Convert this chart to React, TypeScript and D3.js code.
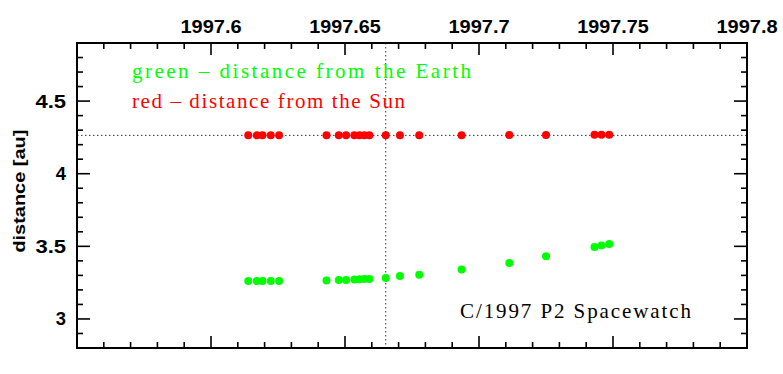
import * as d3 from "d3";

// epochs (decimal year) shared by both series
const epochs = [
  1997.6139, 1997.6171, 1997.6192, 1997.6223, 1997.6254,
  1997.6431, 1997.6477, 1997.6504, 1997.6535, 1997.6554, 1997.6572, 1997.6591,
  1997.6652, 1997.6705, 1997.6777, 1997.6935, 1997.7113, 1997.725,
  1997.7431, 1997.7457, 1997.7486,
];
// distance from the Earth [au]
const earthDist = [
  3.261, 3.261, 3.261, 3.261, 3.261,
  3.264, 3.268, 3.268, 3.272, 3.274, 3.275, 3.275,
  3.282, 3.296, 3.305, 3.34, 3.385, 3.431,
  3.495, 3.505, 3.516,
];
// distance from the Sun [au]
const sunDist = [
  4.264, 4.264, 4.264, 4.264, 4.264,
  4.264, 4.264, 4.264, 4.264, 4.264, 4.264, 4.264,
  4.265, 4.265, 4.265, 4.265, 4.266, 4.266,
  4.268, 4.268, 4.269,
];
const xTickLabels = ["1997.6", "1997.65", "1997.7", "1997.75", "1997.8"];
const yTickLabels = ["3", "3.5", "4", "4.5"];
const refDist = 4.264;
const refEpoch = 1997.6652;

const W = 783;
const H = 374;
const margin = { left: 77, right: 36, top: 43, bottom: 26 };

export default function App() {
  const innerW = W - margin.left - margin.right;
  const innerH = H - margin.top - margin.bottom;
  const x = d3.scaleLinear().domain([1997.55, 1997.8]).range([0, innerW]);
  const y = d3.scaleLinear().domain([2.8, 4.9]).range([innerH, 0]);

  const xMinor = d3.range(0, 26).map((i) => 1997.55 + i * 0.01);
  const yMinor = d3.range(0, 22).map((i) => 2.8 + i * 0.1);
  const isMajor = (v: number, step: number) =>
    Math.abs(v / step - Math.round(v / step)) < 1e-6;

  const tickStroke = { stroke: "#000", strokeWidth: 1.6 };
  const labelFont = {
    fontFamily: "Liberation Sans, Arial, sans-serif",
    fontWeight: 700,
    fontSize: 18,
  };
  const serif = { fontFamily: "Liberation Serif, Times New Roman, serif", fontSize: 21 };

  return (
    <svg
      width={W}
      height={H}
      style={{ position: "absolute", left: 0, top: 0, background: "#fff" }}
    >
      <g transform={`translate(${margin.left},${margin.top})`}>
        {/* reference lines */}
        <line
          x1={0}
          x2={innerW}
          y1={y(refDist)}
          y2={y(refDist)}
          stroke="#333"
          strokeWidth={1}
          strokeDasharray="1.5,2.5"
        />
        <line
          x1={x(refEpoch)}
          x2={x(refEpoch)}
          y1={0}
          y2={innerH}
          stroke="#333"
          strokeWidth={1}
          strokeDasharray="1.5,2.5"
        />

        {/* ticks x */}
        {xMinor.map((v, i) => {
          const len = isMajor(v - 1997.55, 0.05) ? 12 : 6;
          return (
            <g key={`xt${i}`}>
              <line x1={x(v)} x2={x(v)} y1={innerH} y2={innerH - len} {...tickStroke} />
              <line x1={x(v)} x2={x(v)} y1={0} y2={len} {...tickStroke} />
            </g>
          );
        })}
        {yMinor.map((v, i) => {
          const len = isMajor(v, 0.5) ? 13 : 6;
          return (
            <g key={`yt${i}`}>
              <line x1={0} x2={len} y1={y(v)} y2={y(v)} {...tickStroke} />
              <line x1={innerW} x2={innerW - len} y1={y(v)} y2={y(v)} {...tickStroke} />
            </g>
          );
        })}

        {/* frame */}
        <rect x={0} y={0} width={innerW} height={innerH} fill="none" stroke="#000" strokeWidth={2} />

        {/* tick labels */}
        {xTickLabels.map((t) => (
          <text
            key={t}
            x={x(+t)}
            y={-10}
            textAnchor="middle"
            {...labelFont}
            textLength={t.length * 10.2}
            lengthAdjust="spacingAndGlyphs"
          >
            {t}
          </text>
        ))}
        {yTickLabels.map((t) => (
          <text
            key={t}
            x={-11}
            y={y(+t)}
            dy="0.36em"
            textAnchor="end"
            {...labelFont}
            textLength={t.length * 10.2}
            lengthAdjust="spacingAndGlyphs"
          >
            {t}
          </text>
        ))}
        <text
          transform={`translate(${25 - margin.left},${y(3.88)}) rotate(-90)`}
          textAnchor="middle"
          {...labelFont}
          fontSize={17}
          textLength={123}
          lengthAdjust="spacingAndGlyphs"
        >
          distance [au]
        </text>

        {/* points */}
        {epochs.map((e, i) => (
          <circle key={`s${i}`} cx={x(e)} cy={y(sunDist[i])} r={4} fill="#ff0000" />
        ))}
        {epochs.map((e, i) => (
          <circle key={`e${i}`} cx={x(e)} cy={y(earthDist[i])} r={4} fill="#00ff00" />
        ))}

        {/* legend */}
        <text x={132 - margin.left} y={78 - margin.top} fill="#00ff00" {...serif} textLength={339} lengthAdjust="spacing">
          green – distance from the Earth
        </text>
        <text x={132 - margin.left} y={108 - margin.top} fill="#ff0000" {...serif} textLength={273} lengthAdjust="spacing">
          red – distance from the Sun
        </text>
        <text x={460 - margin.left} y={318 - margin.top} fill="#000" {...serif} textLength={231} lengthAdjust="spacing">
          C/1997 P2 Spacewatch
        </text>
      </g>
    </svg>
  );
}
